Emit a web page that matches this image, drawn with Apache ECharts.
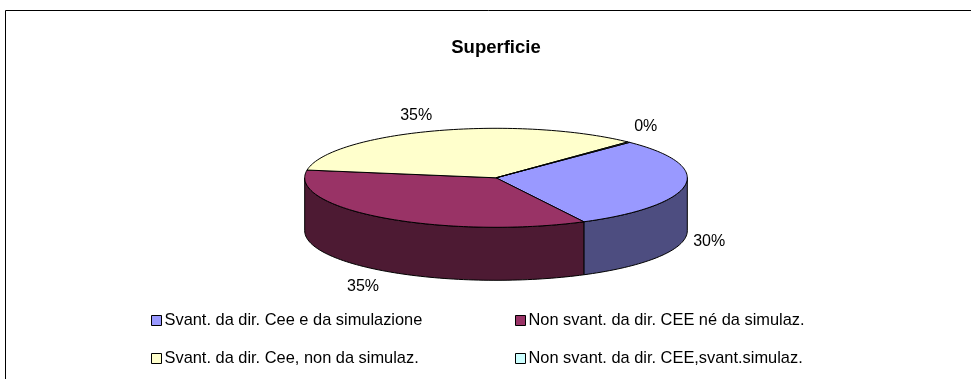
<!DOCTYPE html>
<html><head><meta charset="utf-8">
<style>html,body{margin:0;padding:0;background:#fff}#c{width:971px;height:379px}</style>
<script src="https://cdn.jsdelivr.net/npm/echarts@6/dist/echarts.min.js"></script>
</head><body><div id="c"></div>
<script>
const titleText = 'Superficie';
const categories = ['Svant. da dir. Cee e da simulazione','Non svant. da dir. CEE né da simulaz.','Svant. da dir. Cee, non da simulaz.','Non svant. da dir. CEE,svant.simulaz.'];
const values = [30.1,35.1,34.6,0.2];
const topColors = ['#9999FF','#993366','#FFFFCC','#CCFFFF'];
const sideColors = ['#4D4D80','#4D1A33','#808066','#668080'];
const labelNudges = [[24,3],[-21,16],[-18.5,-15],[17,-15.5]];

const cx=496, cy=177.8, rx=191.3, ry=49.5, depth=53, firstAngle=44.3;
const total = values.reduce((a,b)=>a+b,0);
const rad = d=>d*Math.PI/180;
const pt = (a,dy=0)=>[cx+rx*Math.sin(rad(a)), cy-ry*Math.cos(rad(a))+dy];
function arc(a0,a1,dy){const n=Math.max(2,Math.ceil((a1-a0)/1.5)),p=[];for(let i=0;i<=n;i++)p.push(pt(a0+(a1-a0)*i/n,dy));return p;}
const starts=[];values.reduce((s,v,i)=>{starts[i]=s;return s+v/total*360;},firstAngle);

function renderSlice(i){
  return function(){
    const v=values[i], a0=starts[i], a1=a0+v/total*360, children=[];
    const lo=Math.max(a0,90), hi=Math.min(a1,270);
    if(hi>lo){
      children.push({type:'polygon',shape:{points:arc(lo,hi,0).concat(arc(lo,hi,depth).reverse())},
        style:{fill:sideColors[i],stroke:'#000',lineWidth:1,lineJoin:'round'}});
    }
    children.push({type:'polygon',shape:{points:[[cx,cy]].concat(arc(a0,a1,0))},
      style:{fill:topColors[i],stroke:'#000',lineWidth:1,lineJoin:'round'}});
    const m=(a0+a1)/2, front=Math.cos(rad(m))<0, p=pt(m,front?depth:0);
    children.push({type:'text',style:{text:Math.round(v)+'%',x:p[0]+labelNudges[i][0],y:p[1]+labelNudges[i][1],
      align:'center',verticalAlign:'middle',fill:'#000',font:'16px "Liberation Sans", Arial, sans-serif'}});
    return {type:'group',children};
  };
}
const legendBase={orient:'vertical',itemWidth:10,itemHeight:10,itemGap:22,icon:'rect',selectedMode:false,
  itemStyle:{borderColor:'#000',borderWidth:1},
  textStyle:{color:'#000',fontSize:16.4,fontFamily:'"Liberation Sans", Arial, sans-serif',padding:[0,0,0,-2],height:10,lineHeight:10},padding:0};
const chart=echarts.init(document.getElementById('c'));
chart.setOption({
  animation:false,backgroundColor:'#fff',
  title:{text:titleText,left:496,top:38,textAlign:'center',padding:0,
    textStyle:{color:'#000',fontSize:18.5,fontWeight:'bold',fontFamily:'"Liberation Sans", Arial, sans-serif'}},
  legend:[
    Object.assign({},legendBase,{left:151,top:312.5,data:[categories[0],categories[2]]}),
    Object.assign({},legendBase,{left:515,top:312.5,data:[categories[1],categories[3]]})
  ],
  graphic:[{type:'polyline',silent:true,shape:{points:[[5.5,379],[5.5,10.5],[971,10.5]]},style:{fill:null,stroke:'#000',lineWidth:1}}],
  series:categories.map((name,i)=>({type:'custom',name,coordinateSystem:'none',data:[values[i]],
    itemStyle:{color:topColors[i]},renderItem:renderSlice(i),silent:true}))
});
</script></body></html>
